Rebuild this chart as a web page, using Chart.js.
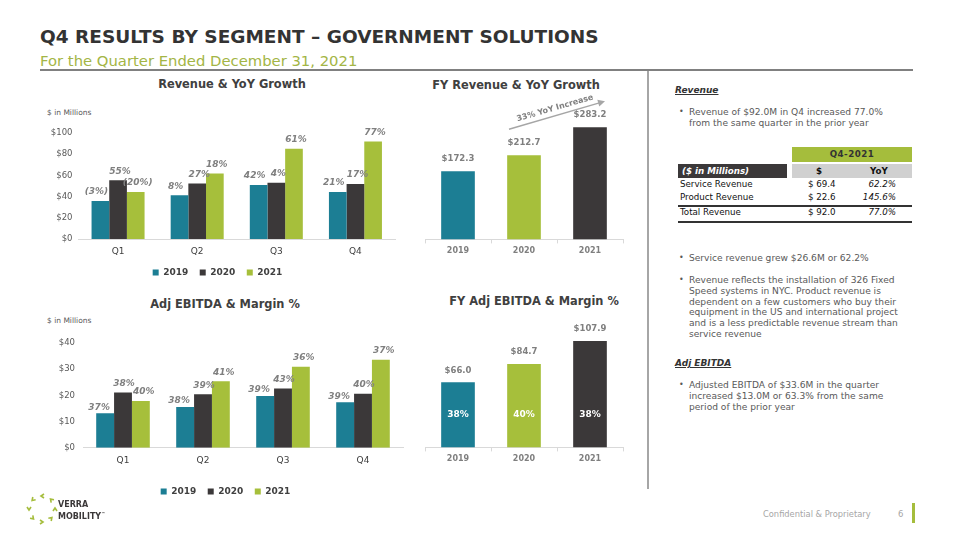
<!DOCTYPE html>
<html>
<head>
<meta charset="utf-8">
<script src="https://cdn.jsdelivr.net/npm/chart.js@4.4.1/dist/chart.umd.min.js"></script>
<style>
  body { margin: 0; width: 960px; height: 540px; position: relative; background: #fff; overflow: hidden;
         font-family: "DejaVu Sans", Verdana, sans-serif; }
  .abs { position: absolute; white-space: nowrap; }
  canvas { position: absolute; }
  .ctitle { position: absolute; font-weight: bold; font-size: 11.4px; color: #404040; text-align: center; width: 240px; }
  .unit { position: absolute; font-size: 7.5px; color: #595959; }
  .txt { position: absolute; font-size: 9.1px; line-height: 10.8px; color: #595959; white-space: nowrap; }
  .bul { position: absolute; font-size: 8px; color: #595959; }
  .head { position: absolute; font-size: 9px; font-weight: bold; font-style: italic; text-decoration: underline; color: #333; }
  .cell { position: absolute; font-size: 8.7px; color: #111; white-space: nowrap; }
</style>
</head>
<body>

<!-- header -->
<div class="abs" style="left:40px;top:26px;font-size:18.5px;font-weight:bold;color:#333;">Q4 RESULTS BY SEGMENT – GOVERNMENT SOLUTIONS</div>
<div class="abs" style="left:40px;top:52px;font-size:14.8px;color:#a3b545;">For the Quarter Ended December 31, 2021</div>
<div class="abs" style="left:40px;top:69px;width:873px;height:2px;background:#808080;"></div>
<div class="abs" style="left:647px;top:71px;width:2px;height:418px;background:#a6a6a6;"></div>

<!-- chart titles -->
<div class="ctitle" style="left:112px;top:77px;">Revenue &amp; YoY Growth</div>
<div class="ctitle" style="left:396px;top:78px;">FY Revenue &amp; YoY Growth</div>
<div class="ctitle" style="left:105px;top:297px;">Adj EBITDA &amp; Margin %</div>
<div class="ctitle" style="left:414px;top:294px;">FY Adj EBITDA &amp; Margin %</div>
<div class="unit" style="left:47px;top:108px;">$ in Millions</div>
<div class="unit" style="left:47px;top:316px;">$ in Millions</div>

<canvas id="chartRev"></canvas>
<canvas id="chartFyRev"></canvas>
<canvas id="chartEbitda"></canvas>
<canvas id="chartFyEbitda"></canvas>

<!-- right panel -->
<div class="head" style="left:675px;top:85px;">Revenue</div>
<div class="bul" style="left:679px;top:107px;">•</div>
<div class="txt" style="left:689px;top:107px;">Revenue of $92.0M in Q4 increased 77.0%<br>from the same quarter in the prior year</div>

<div class="abs" style="left:792px;top:147px;width:120px;height:15px;background:#a5bd3c;"></div>
<div class="cell" style="left:792px;top:149px;width:120px;text-align:center;font-weight:bold;color:#333;letter-spacing:0.5px;">Q4-2021</div>
<div class="abs" style="left:678px;top:164px;width:109px;height:14px;background:#3b3839;"></div>
<div class="cell" style="left:682px;top:166px;color:#fff;font-weight:bold;font-style:italic;">($ in Millions)</div>
<div class="abs" style="left:792px;top:164px;width:120px;height:14px;background:#d0d0d0;"></div>
<div class="cell" style="left:816px;top:166px;font-weight:bold;">$</div>
<div class="cell" style="left:870px;top:166px;font-weight:bold;">YoY</div>

<div class="cell" style="left:680px;top:179px;">Service Revenue</div>
<div class="cell" style="left:808px;top:179px;">$ 69.4</div>
<div class="cell" style="left:846px;top:179px;width:50px;text-align:right;font-style:italic;">62.2%</div>
<div class="cell" style="left:680px;top:192px;">Product Revenue</div>
<div class="cell" style="left:808px;top:192px;">$ 22.6</div>
<div class="cell" style="left:846px;top:192px;width:50px;text-align:right;font-style:italic;">145.6%</div>
<div class="abs" style="left:678px;top:205px;width:234px;height:1.5px;background:#333;"></div>
<div class="cell" style="left:680px;top:207px;">Total Revenue</div>
<div class="cell" style="left:808px;top:207px;">$ 92.0</div>
<div class="cell" style="left:846px;top:207px;width:50px;text-align:right;font-style:italic;">77.0%</div>
<div class="abs" style="left:678px;top:221px;width:234px;height:1.5px;background:#333;"></div>

<div class="bul" style="left:679px;top:253px;">•</div>
<div class="txt" style="left:689px;top:253px;">Service revenue grew $26.6M or 62.2%</div>
<div class="bul" style="left:679px;top:275px;">•</div>
<div class="txt" style="left:689px;top:275px;">Revenue reflects the installation of 326 Fixed<br>Speed systems in NYC. Product revenue is<br>dependent on a few customers who buy their<br>equipment in the US and international project<br>and is a less predictable revenue stream than<br>service revenue</div>

<div class="head" style="left:675px;top:358px;">Adj EBITDA</div>
<div class="bul" style="left:679px;top:380px;">•</div>
<div class="txt" style="left:689px;top:380px;">Adjusted EBITDA of $33.6M in the quarter<br>increased $13.0M or 63.3% from the same<br>period of the prior year</div>

<!-- footer -->
<svg class="abs" style="left:22px;top:490px;" width="40" height="40" viewBox="0 0 40 40">
  <g fill="none" stroke="#a5bd3c" stroke-width="1.6" id="logoRing"></g>
</svg>
<div class="abs" style="left:58px;top:500px;font-size:8px;font-weight:bold;color:#3b3839;line-height:9px;">VERRA<br>MOBILITY<sup style="font-size:4px;">™</sup></div>
<div class="abs" style="left:763px;top:509px;font-size:8.3px;color:#a6a6a6;">Confidential &amp; Proprietary</div>
<div class="abs" style="left:898px;top:509px;font-size:8.5px;color:#a6a6a6;">6</div>
<div class="abs" style="left:912px;top:503px;width:3px;height:20px;background:#a5bd3c;"></div>

<script>
// === DATA ===
const quarters = ["Q1", "Q2", "Q3", "Q4"];
const years = ["2019", "2020", "2021"];

const rev2019 = [35.8, 41.2, 50.9, 44.4];
const rev2020 = [55.4, 52.3, 53.0, 52.0];
const rev2021 = [44.3, 61.8, 85.1, 92.0];
const revGrowth2019 = ["(3%)", "8%", "42%", "21%"];
const revGrowth2020 = ["55%", "27%", "4%", "17%"];
const revGrowth2021 = ["(20%)", "18%", "61%", "77%"];
const revTicks = [0, 20, 40, 60, 80, 100];

const ebitda2019 = [13.2, 15.6, 19.8, 17.4];
const ebitda2020 = [21.1, 20.4, 22.6, 20.6];
const ebitda2021 = [17.9, 25.4, 31.0, 33.6];
const margin2019 = ["37%", "38%", "39%", "39%"];
const margin2020 = ["38%", "39%", "43%", "40%"];
const margin2021 = ["40%", "41%", "36%", "37%"];
const ebitdaTicks = [0, 10, 20, 30, 40];

const fyRevenue = [172.3, 212.7, 283.2];
const fyEbitda = [66.0, 84.7, 107.9];
const fyMargin = ["38%", "40%", "38%"];
const fyGrowthNote = "33% YoY Increase";

// === COLOURS ===
const teal = "#1c7e94";
const dark = "#3b3839";
const lime = "#a6bf3b";
const labelGrey = "#7f7f7f";

Chart.defaults.font.family = '"DejaVu Sans", Verdana, sans-serif';
Chart.defaults.animation = false;

// logo ring of chevrons
const ring = document.getElementById("logoRing");
for (let i = 0; i < 8; i++) {
  const a = i * 45;
  const p = document.createElementNS("http://www.w3.org/2000/svg", "polyline");
  p.setAttribute("points", "-2,-2 0,1 2,-2");
  p.setAttribute("transform", `translate(20 19) rotate(${a}) translate(0 -13) rotate(90)`);
  ring.appendChild(p);
}

function place(id, left, top, w, h) {
  const c = document.getElementById(id);
  c.style.left = left + "px";
  c.style.top = top + "px";
  c.width = w; c.height = h;
  c.style.width = w + "px"; c.style.height = h + "px";
  return c;
}

// labels above bars, text kept on each dataset
const topLabels = {
  id: "topLabels",
  afterDatasetsDraw(chart, args, opts) {
    const ctx = chart.ctx;
    chart.data.datasets.forEach((ds, i) => {
      if (!ds.tops) return;
      chart.getDatasetMeta(i).data.forEach((bar, j) => {
        ctx.save();
        ctx.font = opts.font;
        ctx.fillStyle = opts.color;
        ctx.textAlign = "center";
        ctx.textBaseline = "middle";
        ctx.fillText(ds.tops[j], bar.x + (ds.dx || 0), bar.y - (ds.dy || opts.dy));
        if (ds.inner) {
          ctx.font = "bold 9px 'DejaVu Sans'";
          ctx.fillStyle = "#fff";
          ctx.fillText(ds.inner[j], bar.x, chart.scales.y.getPixelForValue(0) - 33);
        }
        ctx.restore();
      });
    });
  }
};

function quarterChart(id, left, top, w, h, datasets, ticks, max, yWidth, tickPad, padTop, xHeight, xPad) {
  const ctx = place(id, left, top, w, h).getContext("2d");
  return new Chart(ctx, {
    type: "bar",
    data: { labels: quarters, datasets: datasets },
    plugins: [topLabels],
    options: {
      responsive: false,
      layout: { padding: { top: padTop, right: 5, left: 0, bottom: 0 } },
      datasets: { bar: { categoryPercentage: 0.67, barPercentage: 1 } },
      plugins: {
        legend: {
          position: "bottom",
          labels: { boxWidth: 6, boxHeight: 6, padding: 11.5, color: "#404040",
                    font: { size: 9, weight: "bold" } }
        },
        tooltip: { enabled: false },
        topLabels: { font: "italic bold 9px 'DejaVu Sans'", color: labelGrey, dy: 9 }
      },
      scales: {
        x: {
          afterFit: (s) => { s.height = xHeight; },
          grid: { display: false, drawTicks: false },
          border: { color: "#d9d9d9" },
          ticks: { color: "#404040", font: { size: 9 }, padding: xPad }
        },
        y: {
          min: 0, max: max,
          afterBuildTicks: (s) => { s.ticks = ticks.map(v => ({ value: v })); },
          afterFit: (s) => { s.width = yWidth; },
          grid: { display: false, drawTicks: false },
          border: { display: false },
          ticks: { color: "#595959", font: { size: 8.5 }, padding: tickPad, callback: v => "$" + v }
        }
      }
    }
  });
}

quarterChart("chartRev", 40, 121, 360, 166, [
  { label: years[0], data: rev2019, backgroundColor: teal, tops: revGrowth2019, dx: -4 },
  { label: years[1], data: rev2020, backgroundColor: dark, tops: revGrowth2020, dx: 2 },
  { label: years[2], data: rev2021, backgroundColor: lime, tops: revGrowth2021, dx: 2 }
], revTicks, 100, 38.5, 6, 12, 17.5, 7);

quarterChart("chartEbitda", 48, 330, 360, 176, [
  { label: years[0], data: ebitda2019, backgroundColor: teal, tops: margin2019, dx: -6, dy: 6 },
  { label: years[1], data: ebitda2020, backgroundColor: dark, tops: margin2020, dx: 1 },
  { label: years[2], data: ebitda2021, backgroundColor: lime, tops: margin2021, dx: 3 }
], ebitdaTicks, 40, 35, 8, 12.3, 27.8, 8);

// YoY arrow over the FY revenue bars
const growthArrow = {
  id: "growthArrow",
  afterDatasetsDraw(chart) {
    const bars = chart.getDatasetMeta(0).data;
    const ctx = chart.ctx;
    const x1 = bars[1].x - 15, y1 = bars[1].y - 26;
    const x2 = bars[2].x + 15, y2 = bars[2].y - 26;
    const ang = Math.atan2(y2 - y1, x2 - x1);
    ctx.save();
    ctx.strokeStyle = "#a6a6a6";
    ctx.fillStyle = "#a6a6a6";
    ctx.lineWidth = 1.5;
    ctx.beginPath(); ctx.moveTo(x1, y1); ctx.lineTo(x2 - 5 * Math.cos(ang), y2 - 5 * Math.sin(ang)); ctx.stroke();
    ctx.translate(x2, y2); ctx.rotate(ang);
    ctx.beginPath(); ctx.moveTo(0, 0); ctx.lineTo(-7, -3.5); ctx.lineTo(-7, 3.5); ctx.closePath(); ctx.fill();
    ctx.restore();
    ctx.save();
    ctx.translate((x1 + x2) / 2 - 2, (y1 + y2) / 2 - 7);
    ctx.rotate(ang);
    ctx.font = "bold 8px 'DejaVu Sans'";
    ctx.fillStyle = labelGrey;
    ctx.textAlign = "center";
    ctx.textBaseline = "middle";
    ctx.fillText(fyGrowthNote, 0, 0);
    ctx.restore();
  }
};

function fyChart(id, left, top, w, h, values, max, padTop, inner, extra) {
  const ctx = place(id, left, top, w, h).getContext("2d");
  return new Chart(ctx, {
    type: "bar",
    data: {
      labels: years,
      datasets: [{
        data: values,
        backgroundColor: [teal, lime, dark],
        tops: values.map(v => "$" + v.toFixed(1)),
        inner: inner,
        dy: 12
      }]
    },
    plugins: [topLabels].concat(extra),
    options: {
      responsive: false,
      layout: { padding: { top: padTop, right: 12, left: 10, bottom: 0 } },
      datasets: { bar: { categoryPercentage: 1, barPercentage: 0.51 } },
      plugins: {
        legend: { display: false },
        tooltip: { enabled: false },
        topLabels: { font: "bold 8.5px 'DejaVu Sans'", color: labelGrey, dy: 12 }
      },
      scales: {
        x: {
          grid: { drawOnChartArea: false, tickLength: 4, color: "#d9d9d9" },
          border: { color: "#d9d9d9" },
          ticks: { color: labelGrey, font: { size: 8, weight: "bold" }, padding: 3 }
        },
        y: { display: false, min: 0, max: max }
      }
    }
  });
}

fyChart("chartFyRev", 415, 90, 220, 169, fyRevenue, 300, 30.6, null, [growthArrow]);
fyChart("chartFyEbitda", 415, 320, 220, 147, fyEbitda, 120, 9.1, fyMargin, []);
</script>
</body>
</html>
